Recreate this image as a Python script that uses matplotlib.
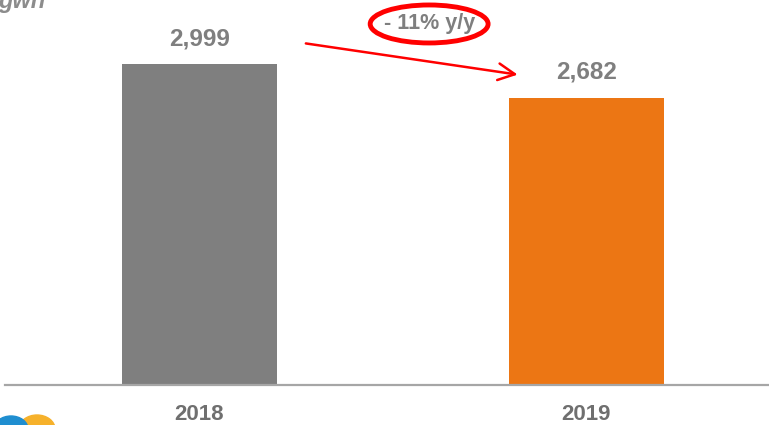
import matplotlib
matplotlib.use('Agg')
import matplotlib.pyplot as plt
from matplotlib.patches import Ellipse

plt.rcParams['font.family'] = ['Liberation Sans', 'DejaVu Sans']

years = ['2018', '2019']
values = [2999, 2682]
value_labels = ['2,999', '2,682']
bar_colors = ['#7f7f7f', '#ec7614']
change_label = '- 11% y/y'
unit_label = 'gwh'

W, H = 769, 425
fig = plt.figure(figsize=(W / 100, H / 100), dpi=100)
# axes spans from x=5px to right edge, baseline at y=385px to top
ax = fig.add_axes([5 / W, (H - 385) / H, (W - 5) / W, 385 / H])

x = range(len(years))
ax.bar(x, values, width=0.401, color=bar_colors, zorder=2)
ax.set_xlim(-0.503, 1.473)
ax.set_ylim(0, 3597)

for xi, v, lab in zip(x, values, value_labels):
    ax.annotate(lab, (xi, v), xytext=(0, 14), textcoords='offset pixels',
                ha='center', va='bottom', fontsize=17.5, fontweight='bold',
                color='#7f7f7f')

for s in ['top', 'right', 'left']:
    ax.spines[s].set_visible(False)
ax.spines['bottom'].set_color('#a6a6a6')
ax.spines['bottom'].set_linewidth(1.6)
ax.set_yticks([])
ax.set_xticks(list(x))
ax.set_xticklabels(years, fontsize=16, fontweight='bold', color='#6f6f6f')
ax.tick_params(axis='x', length=0, pad=14)

# arrow and circled change label
ax.annotate('', xy=(0.83, 2896), xytext=(0.268, 3195),
            arrowprops=dict(arrowstyle='->,head_length=1.2,head_width=0.6',
                            color='#ff0000', lw=1.8), annotation_clip=False)
ax.add_patch(Ellipse((0.594, 3373), 0.305, 355, fill=False,
                     edgecolor='#ff0000', lw=3.5, clip_on=False, zorder=3))
ax.text(0.594, 3373, change_label, ha='center', va='center', fontsize=15.5,
        fontweight='bold', color='#7f7f7f', clip_on=False)

# unit label cut at top
fig.text(-2 / W, (H - 8) / H, unit_label, ha='left', va='baseline',
         fontsize=17, fontweight='bold', style='italic', color='#8c8c8c')

# partial logo at bottom-left
fig.patches.append(Ellipse((37 / W, -4 / H), 36 / W, 28 / H,
                           transform=fig.transFigure, color='#f6b12b', zorder=0))
fig.patches.append(Ellipse((11 / W, -4 / H), 34 / W, 26 / H,
                           transform=fig.transFigure, color='#1f8ed0', zorder=1))

fig.savefig('out.png', dpi=100)
